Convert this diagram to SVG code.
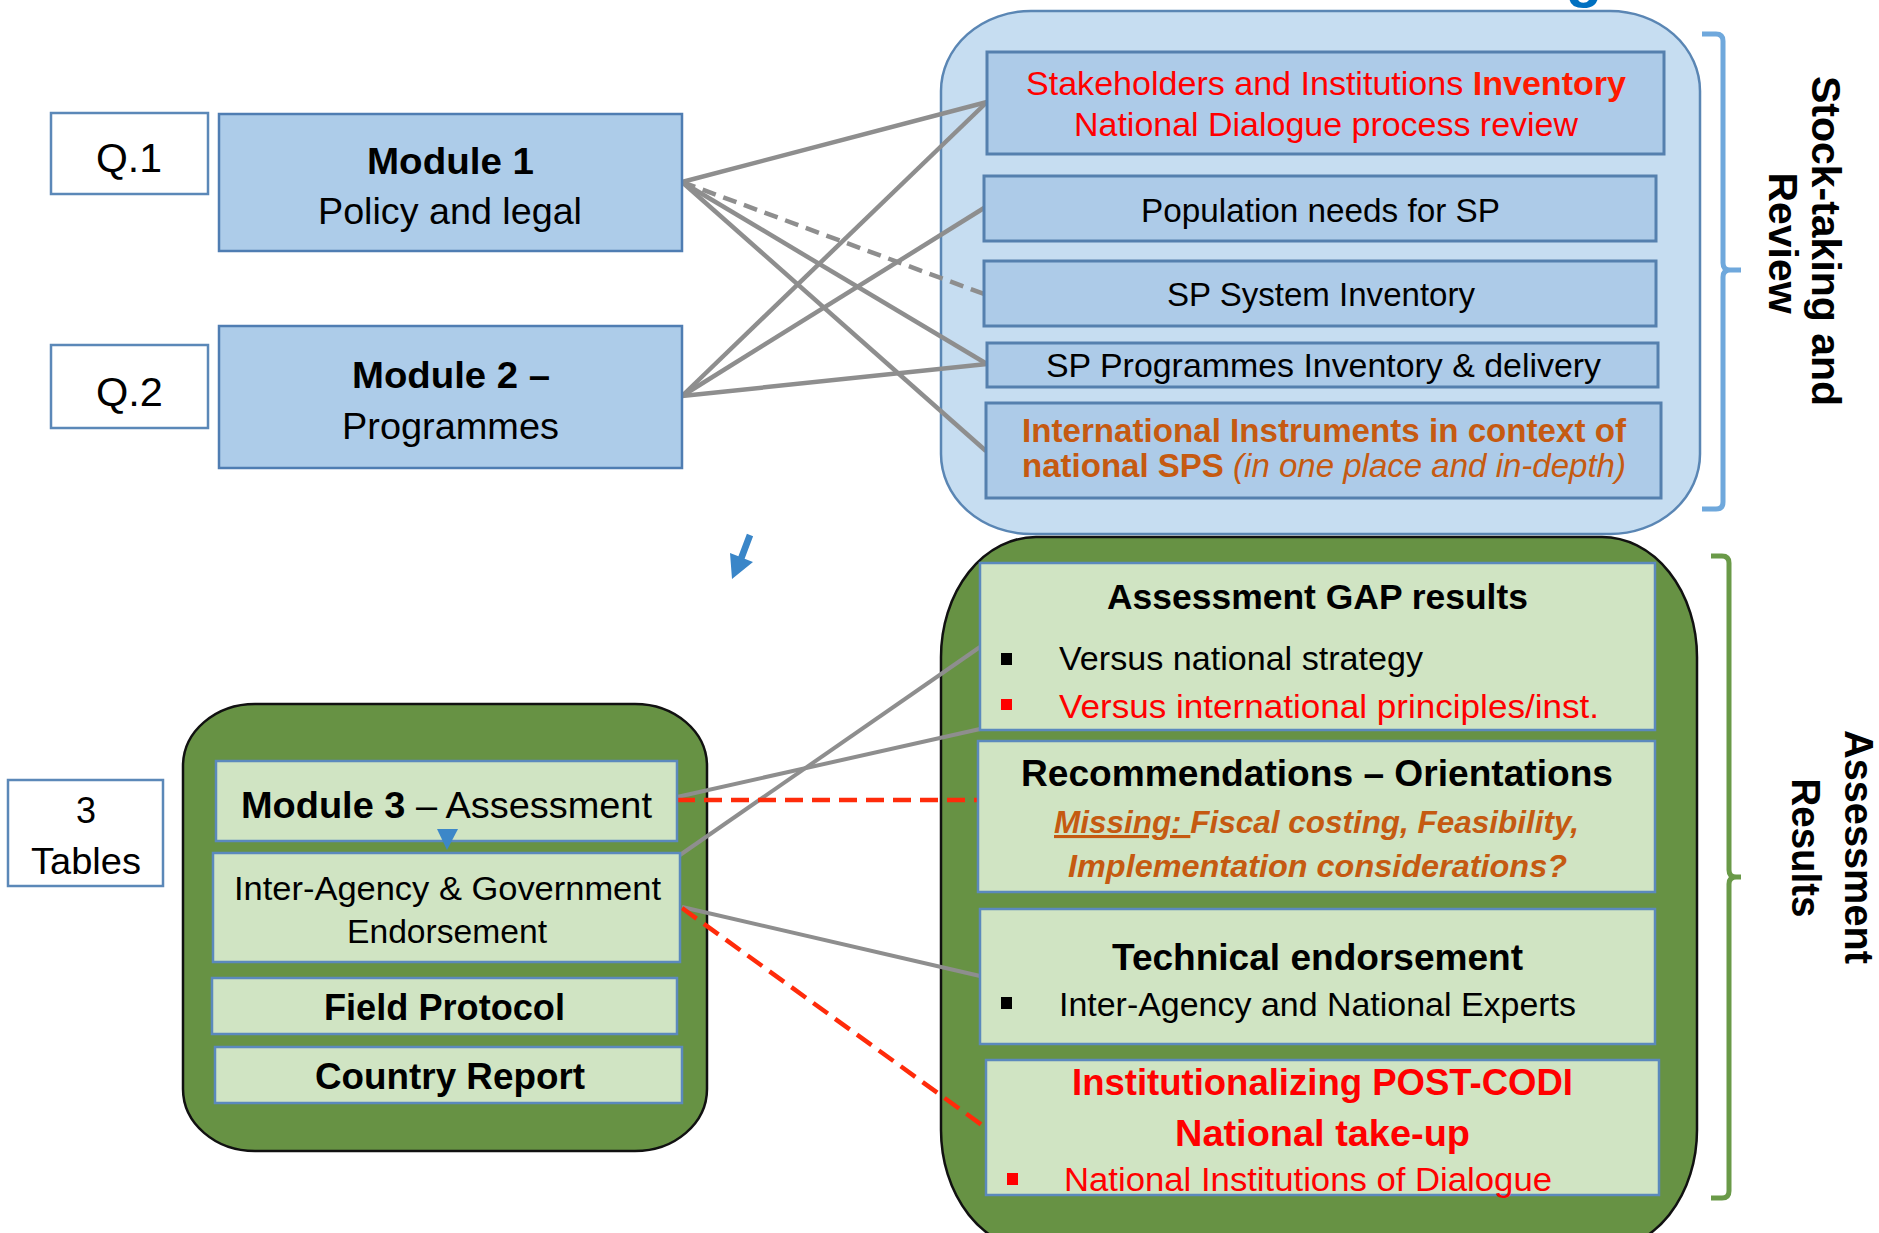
<svg xmlns="http://www.w3.org/2000/svg" width="1879" height="1233" viewBox="0 0 1879 1233">
<style>
text { font-family: "Liberation Sans", Arial, sans-serif; fill: #000; }
.b { font-weight: bold; }
.i { font-style: italic; }
.red { fill: #ff0000; }
.redb { fill: #ff1a00; }
.org { fill: #c55a11; }
.qbox { fill: #ffffff; stroke: #5b88b8; stroke-width: 2.5; }
.mod { fill: #adcce9; stroke: #4f7db2; stroke-width: 2.5; }
.outerBlue { fill: #c6ddf1; stroke: #5a86b4; stroke-width: 2.5; }
.innerBlue { fill: #adcbe8; stroke: #5580ae; stroke-width: 3; }
.outerGreen { fill: #679244; stroke: #111111; stroke-width: 2.5; }
.lg { fill: #d0e4c3; stroke: #5b89bd; stroke-width: 2.5; }
.conn { stroke: #8e8e8e; stroke-width: 4.5; fill: none; }
.dashGray { stroke-dasharray: 14 8; }
.redDash { stroke: #ff2b0a; stroke-width: 4.5; stroke-dasharray: 18 9; fill: none; }
.bracketBlue { stroke: #6fa8dc; stroke-width: 5; fill: none; }
.bracketGreen { stroke: #6a9a48; stroke-width: 5; fill: none; }
.blueArrow { fill: #3a86c8; }
</style>

<!-- cut-off title fragment -->
<text x="1584" y="-4" font-size="60" class="b" text-anchor="middle" style="fill:#0070c0">g</text>

<!-- containers -->
<g id="stocktaking-container">
<rect class="outerBlue" x="941" y="11" width="759" height="523" rx="90" ry="80"/>
</g>
<g id="assessment-results-container">
<rect class="outerGreen" x="941" y="537" width="756" height="713" rx="95" ry="120"/>
</g>
<g id="module3-container">
<rect class="outerGreen" x="183" y="704" width="524" height="447" rx="72" ry="62"/>
</g>

<!-- connectors -->
<g id="connectors">
<line class="conn" x1="682" y1="182" x2="987" y2="102"/>
<line class="conn dashGray" x1="682" y1="182" x2="984" y2="294"/>
<line class="conn" x1="682" y1="182" x2="987" y2="364"/>
<line class="conn" x1="682" y1="182" x2="986" y2="451"/>
<line class="conn" x1="682" y1="396" x2="987" y2="102"/>
<line class="conn" x1="682" y1="396" x2="984" y2="208"/>
<line class="conn" x1="682" y1="396" x2="987" y2="364"/>
<line class="conn" style="stroke-width:4" x1="677" y1="797" x2="980" y2="729"/>
<line class="conn" style="stroke-width:4" x1="680" y1="855" x2="980" y2="647"/>
<line class="conn" style="stroke-width:4" x1="682" y1="907" x2="980" y2="976"/>
<line class="redDash" x1="677" y1="800" x2="978" y2="800"/>
<line class="redDash" x1="682" y1="908" x2="986" y2="1128"/>
<polygon class="blueArrow" points="746.9,533.8 753.1,536.2 744.6,558.7 753,562 732,579 730,553 738.4,556.3"/>
</g>

<!-- left column nodes -->
<g id="q1">
<rect class="qbox" x="51" y="113" width="157" height="81"/>
<text x="96" y="172" font-size="40" textLength="66" lengthAdjust="spacingAndGlyphs">Q.1</text>
</g>
<g id="module1">
<rect class="mod" x="219" y="114" width="463" height="137"/>
<text x="367" y="174" font-size="36" class="b" textLength="167" lengthAdjust="spacingAndGlyphs">Module 1</text>
<text x="318" y="224" font-size="37" textLength="264" lengthAdjust="spacingAndGlyphs">Policy and legal</text>
</g>
<g id="q2">
<rect class="qbox" x="51" y="345" width="157" height="83"/>
<text x="96" y="406" font-size="40" textLength="67" lengthAdjust="spacingAndGlyphs">Q.2</text>
</g>
<g id="module2">
<rect class="mod" x="219" y="326" width="463" height="142"/>
<text x="352" y="388" font-size="36" class="b" textLength="198" lengthAdjust="spacingAndGlyphs">Module 2 –</text>
<text x="342" y="439" font-size="36" textLength="217" lengthAdjust="spacingAndGlyphs">Programmes</text>
</g>

<!-- stock-taking boxes -->
<g id="stakeholders">
<rect class="innerBlue" x="987" y="52" width="677" height="102"/>
<text x="1026" y="95" font-size="33" textLength="600" lengthAdjust="spacingAndGlyphs"><tspan class="red">Stakeholders and Institutions </tspan><tspan class="redb b">Inventory</tspan></text>
<text x="1074" y="136" font-size="33" class="red" textLength="504" lengthAdjust="spacingAndGlyphs">National Dialogue process review</text>
</g>
<g id="population">
<rect class="innerBlue" x="984" y="176" width="672" height="65"/>
<text x="1141" y="222" font-size="33" textLength="359" lengthAdjust="spacingAndGlyphs">Population needs for SP</text>
</g>
<g id="sp-system">
<rect class="innerBlue" x="984" y="261" width="672" height="65"/>
<text x="1167" y="306" font-size="33" textLength="308" lengthAdjust="spacingAndGlyphs">SP System Inventory</text>
</g>
<g id="sp-programmes">
<rect class="innerBlue" x="987" y="343" width="671" height="44"/>
<text x="1046" y="377" font-size="33" textLength="555" lengthAdjust="spacingAndGlyphs">SP Programmes Inventory &amp; delivery</text>
</g>
<g id="international">
<rect class="innerBlue" x="986" y="403" width="675" height="95"/>
<text x="1022" y="442" font-size="33" class="b org" textLength="604" lengthAdjust="spacingAndGlyphs">International Instruments in context of</text>
<text x="1022" y="477" font-size="33" class="org" textLength="604" lengthAdjust="spacingAndGlyphs"><tspan class="b org">national SPS </tspan><tspan class="i org">(in one place and in-depth)</tspan></text>
</g>

<!-- brackets and side labels -->
<g id="stocktaking-label">
<path class="bracketBlue" d="M1702,34 H1716 Q1723,34 1723,41 V263 Q1723,270 1730,270 H1741 M1730,270 Q1723,270 1723,277 V502 Q1723,509 1716,509 H1702"/>
<text transform="translate(1812,241) rotate(90)" font-size="40" class="b" text-anchor="middle" textLength="330" lengthAdjust="spacingAndGlyphs">Stock-taking and</text>
<text transform="translate(1769,243) rotate(90)" font-size="40" class="b" text-anchor="middle" textLength="141" lengthAdjust="spacingAndGlyphs">Review</text>
</g>
<g id="assessment-label">
<path class="bracketGreen" d="M1711,556 H1722 Q1729,556 1729,563 V870 Q1729,877 1736,877 H1741 M1736,877 Q1729,877 1729,884 V1191 Q1729,1198 1722,1198 H1711"/>
<text transform="translate(1845,847) rotate(90)" font-size="40" class="b" text-anchor="middle" textLength="234" lengthAdjust="spacingAndGlyphs">Assessment</text>
<text transform="translate(1792,848) rotate(90)" font-size="40" class="b" text-anchor="middle" textLength="139" lengthAdjust="spacingAndGlyphs">Results</text>
</g>

<!-- assessment results boxes -->
<g id="gap-results">
<rect class="lg" x="980" y="563" width="675" height="167"/>
<text x="1107" y="609" font-size="35" class="b" textLength="421" lengthAdjust="spacingAndGlyphs">Assessment GAP results</text>
<rect x="1001" y="653" width="11" height="12" fill="#000"/>
<text x="1059" y="670" font-size="33" textLength="364" lengthAdjust="spacingAndGlyphs">Versus national strategy</text>
<rect x="1001" y="699" width="11" height="11" fill="#ff0000"/>
<text x="1059" y="718" font-size="33" class="red" textLength="540" lengthAdjust="spacingAndGlyphs">Versus international principles/inst.</text>
</g>
<g id="recommendations">
<rect class="lg" x="978" y="741" width="677" height="151"/>
<text x="1021" y="786" font-size="36" class="b" textLength="592" lengthAdjust="spacingAndGlyphs">Recommendations – Orientations</text>
<text x="1054" y="833" font-size="31" class="b i org" textLength="525" lengthAdjust="spacingAndGlyphs"><tspan class="b i org" style="text-decoration:underline">Missing: </tspan><tspan class="b i org">Fiscal costing, Feasibility,</tspan></text>
<text x="1068" y="877" font-size="31" class="b i org" textLength="499" lengthAdjust="spacingAndGlyphs">Implementation considerations?</text>
</g>
<g id="technical-endorsement">
<rect class="lg" x="980" y="909" width="675" height="135"/>
<text x="1112" y="970" font-size="36" class="b" textLength="411" lengthAdjust="spacingAndGlyphs">Technical endorsement</text>
<rect x="1001" y="997" width="11" height="12" fill="#000"/>
<text x="1059" y="1016" font-size="33" textLength="517" lengthAdjust="spacingAndGlyphs">Inter-Agency and National Experts</text>
</g>
<g id="institutionalizing">
<rect class="lg" x="986" y="1060" width="673" height="135"/>
<text x="1072" y="1095" font-size="36" class="b red" textLength="501" lengthAdjust="spacingAndGlyphs">Institutionalizing POST-CODI</text>
<text x="1175" y="1146" font-size="37" class="b red" textLength="295" lengthAdjust="spacingAndGlyphs">National take-up</text>
<rect x="1007" y="1173" width="11" height="12" fill="#ff0000"/>
<text x="1064" y="1191" font-size="33" class="red" textLength="488" lengthAdjust="spacingAndGlyphs">National Institutions of Dialogue</text>
</g>

<!-- module 3 side -->
<g id="three-tables">
<rect class="qbox" x="8" y="780" width="155" height="106"/>
<text x="86" y="823" font-size="36" text-anchor="middle">3</text>
<text x="31" y="874" font-size="36" textLength="110" lengthAdjust="spacingAndGlyphs">Tables</text>
</g>
<g id="module3">
<rect class="lg" x="216" y="761" width="461" height="80"/>
<text x="241" y="818" font-size="37" textLength="411" lengthAdjust="spacingAndGlyphs"><tspan class="b">Module 3</tspan> – Assessment</text>
</g>
<g id="inter-agency">
<rect class="lg" x="213" y="853" width="467" height="109"/>
<text x="234" y="900" font-size="34" textLength="427" lengthAdjust="spacingAndGlyphs">Inter-Agency &amp; Government</text>
<text x="347" y="943" font-size="34" textLength="200" lengthAdjust="spacingAndGlyphs">Endorsement</text>
</g>
<g id="field-protocol">
<rect class="lg" x="212" y="978" width="465" height="56"/>
<text x="324" y="1020" font-size="36" class="b" textLength="241" lengthAdjust="spacingAndGlyphs">Field Protocol</text>
</g>
<g id="country-report">
<rect class="lg" x="215" y="1047" width="467" height="56"/>
<text x="315" y="1089" font-size="36" class="b" textLength="270" lengthAdjust="spacingAndGlyphs">Country Report</text>
</g>
<g id="module3-step-marker">
<polygon points="437,829 458,829 447,850" fill="#3c87c8"/>
</g>
</svg>
